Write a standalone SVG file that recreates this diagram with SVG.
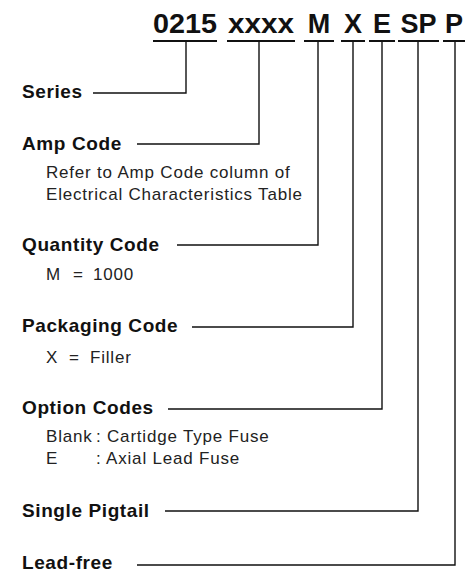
<svg xmlns="http://www.w3.org/2000/svg" width="470" height="572" viewBox="0 0 470 572">
<style>
.hd{font-family:"Liberation Sans",Arial,sans-serif;font-weight:bold;font-size:27px;fill:#111;text-anchor:middle}
.lb{font-family:"Liberation Sans",Arial,sans-serif;font-weight:bold;font-size:19px;letter-spacing:0.6px;fill:#111}
.ds{font-family:"Liberation Sans",Arial,sans-serif;font-size:17px;letter-spacing:0.8px;fill:#222}
.ul{stroke:#111;stroke-width:2.2;fill:none}
.cn{stroke:#111;stroke-width:1.4;fill:none}
</style>
<rect width="470" height="572" fill="#fff"/>
<g id="header">
<text class="hd" x="185" y="33" textLength="64" lengthAdjust="spacingAndGlyphs">0215</text>
<text class="hd" x="261" y="33" textLength="66" lengthAdjust="spacingAndGlyphs">xxxx</text>
<text class="hd" x="319" y="33">M</text>
<text class="hd" x="353" y="33">X</text>
<text class="hd" x="382" y="33">E</text>
<text class="hd" x="418.5" y="33">SP</text>
<text class="hd" x="454" y="33">P</text>
<path class="ul" d="M153 41H217M227 41H295M304 41H334M341 41H365M369 41H395M398 41H439M443 41H465"/>
</g>
<g id="series"><text class="lb" x="22" y="98">Series</text></g>
<g id="amp-code"><text class="lb" x="22" y="150">Amp Code</text>
<text class="ds" x="46" y="178">Refer to Amp Code column of</text>
<text class="ds" x="46" y="200">Electrical Characteristics Table</text></g>
<g id="quantity-code"><text class="lb" x="22" y="251">Quantity Code</text>
<text class="ds" x="46" y="280">M <tspan x="73">=</tspan><tspan x="93">1000</tspan></text></g>
<g id="packaging-code"><text class="lb" x="22" y="332">Packaging Code</text>
<text class="ds" x="46" y="363">X <tspan x="69">=</tspan><tspan x="90">Filler</tspan></text></g>
<g id="option-codes"><text class="lb" x="22" y="414">Option Codes</text>
<text class="ds" x="46" y="442">Blank <tspan x="96">: Cartidge Type Fuse</tspan></text>
<text class="ds" x="46" y="464">E <tspan x="96">: Axial Lead Fuse</tspan></text></g>
<g id="single-pigtail"><text class="lb" x="22" y="517">Single Pigtail</text></g>
<g id="lead-free"><text class="lb" x="22" y="569">Lead-free</text></g>
<g id="connectors">
<path class="cn" d="M186 41V93H93"/>
<path class="cn" d="M259 41V144H137"/>
<path class="cn" d="M318 41V245H177"/>
<path class="cn" d="M353 41V327H192"/>
<path class="cn" d="M382 41V409H168"/>
<path class="cn" d="M418 41V511H165"/>
<path class="cn" d="M455 41V565H137"/>
</g>
</svg>
